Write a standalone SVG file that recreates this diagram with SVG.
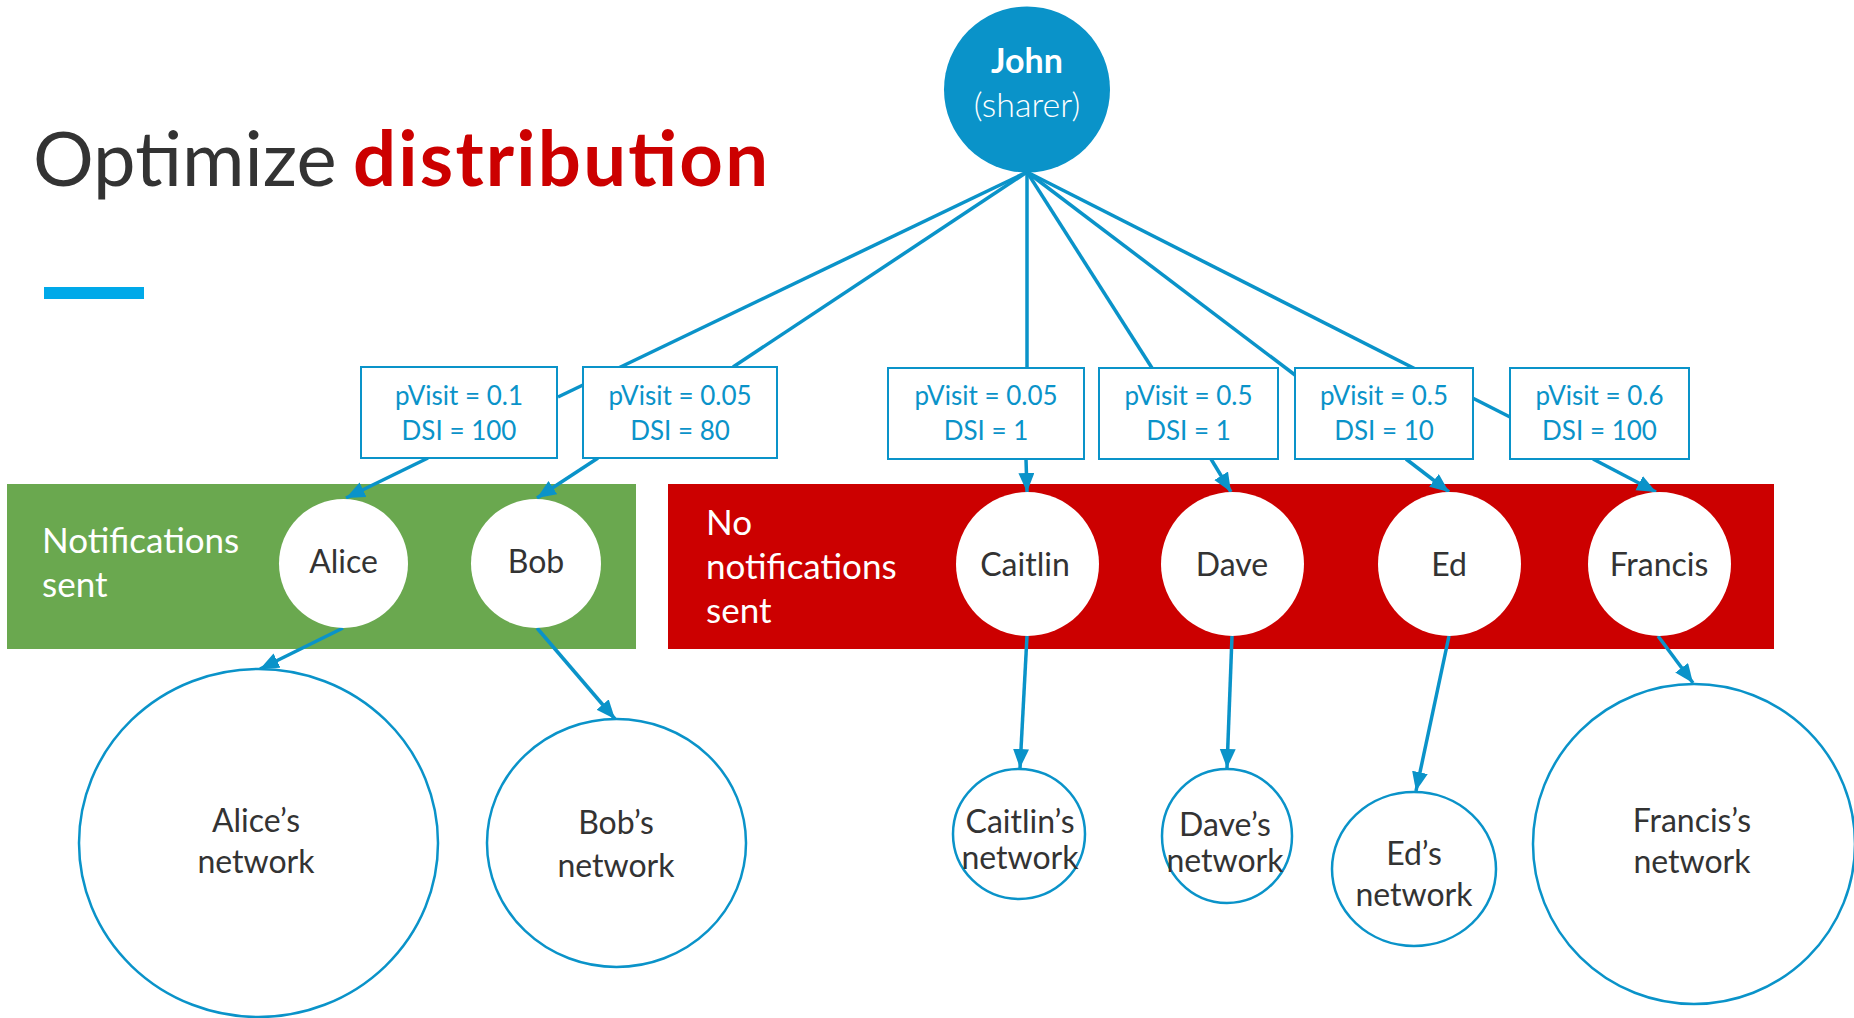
<svg xmlns="http://www.w3.org/2000/svg" width="1854" height="1018" viewBox="0 0 1854 1018">
<style>
text{font-family:Lato,"Noto Sans","Liberation Sans",sans-serif}
.conn{stroke:#0A93C9;stroke-width:3.5;fill:none}
.arr{marker-end:url(#ah)}
.box{fill:#fff;stroke:#0A93C9;stroke-width:2}
.bt{fill:#0A93C9;font-size:26px;text-anchor:middle}
.node{fill:#fff}
.nt{fill:#333;font-size:32px;text-anchor:middle}
.net{fill:#fff;stroke:#0A93C9;stroke-width:2.5}
.gt{fill:#fff;font-size:35px}
</style>
<defs>
<marker id="ah" markerWidth="20" markerHeight="18" refX="19" refY="8" orient="auto" markerUnits="userSpaceOnUse">
<path d="M0,0 L19,8 L0,16 z" fill="#0A93C9"/>
</marker>
</defs>
<rect width="1854" height="1018" fill="#fff"/>
<g id="title">
<text x="33" y="186" font-size="76" fill="#333">Optimize</text>
<text x="353" y="186" font-size="76" fill="#CC0000" font-weight="bold" textLength="415" lengthAdjust="spacing">distribution</text>
<rect x="44" y="287" width="100" height="12" fill="#00A9E9"/>
</g>
<g id="group-sent">
<rect x="7" y="484" width="629" height="165" fill="#6AA84F"/>
<text class="gt" x="42" y="553">Notifications</text>
<text class="gt" x="42" y="597">sent</text>
</g>
<g id="group-not-sent">
<rect x="668" y="484" width="1106" height="165" fill="#CC0000"/>
<text class="gt" x="706" y="535">No</text>
<text class="gt" x="706" y="579">notifications</text>
<text class="gt" x="706" y="623">sent</text>
</g>
<g id="connectors">
<line class="conn" x1="1027" y1="172" x2="558" y2="397"/>
<line class="conn" x1="1027" y1="172" x2="733" y2="367"/>
<line class="conn" x1="1027" y1="172" x2="1027" y2="368"/>
<line class="conn" x1="1027" y1="172" x2="1152" y2="368"/>
<line class="conn" x1="1027" y1="172" x2="1295" y2="375"/>
<line class="conn" x1="1027" y1="172" x2="1510" y2="417"/>
<line class="conn arr" x1="428" y1="458" x2="346" y2="498"/>
<line class="conn arr" x1="598" y1="458" x2="537" y2="498"/>
<line class="conn arr" x1="1026" y1="459" x2="1027" y2="492"/>
<line class="conn arr" x1="1211" y1="459" x2="1231" y2="492"/>
<line class="conn arr" x1="1406" y1="459" x2="1449" y2="492"/>
<line class="conn arr" x1="1593" y1="459" x2="1656" y2="492"/>
<line class="conn arr" x1="343" y1="628" x2="260" y2="669"/>
<line class="conn arr" x1="537" y1="628" x2="615" y2="719"/>
<line class="conn arr" x1="1027" y1="636" x2="1020" y2="768"/>
<line class="conn arr" x1="1232" y1="636" x2="1227" y2="768"/>
<line class="conn arr" x1="1449" y1="636" x2="1416" y2="791"/>
<line class="conn arr" x1="1658" y1="636" x2="1693" y2="683"/>
</g>
<g id="john">
<circle cx="1027" cy="89.5" r="83" fill="#0A93C9"/>
<text x="1027" y="73" font-size="34" font-weight="bold" fill="#fff" text-anchor="middle">John</text>
<text x="1027" y="117" font-size="34" font-weight="300" fill="#fff" text-anchor="middle">(sharer)</text>
</g>
<g id="box-alice"><rect class="box" x="361" y="367" width="196" height="91"/><text class="bt" x="459" y="405">pVisit = 0.1</text><text class="bt" x="459" y="440">DSI = 100</text></g>
<g id="box-bob"><rect class="box" x="583" y="367" width="194" height="91"/><text class="bt" x="680" y="405">pVisit = 0.05</text><text class="bt" x="680" y="440">DSI = 80</text></g>
<g id="box-caitlin"><rect class="box" x="888" y="368" width="196" height="91"/><text class="bt" x="986" y="405">pVisit = 0.05</text><text class="bt" x="986" y="440">DSI = 1</text></g>
<g id="box-dave"><rect class="box" x="1099" y="368" width="179" height="91"/><text class="bt" x="1188.5" y="405">pVisit = 0.5</text><text class="bt" x="1188.5" y="440">DSI = 1</text></g>
<g id="box-ed"><rect class="box" x="1295" y="368" width="178" height="91"/><text class="bt" x="1384" y="405">pVisit = 0.5</text><text class="bt" x="1384" y="440">DSI = 10</text></g>
<g id="box-francis"><rect class="box" x="1510" y="368" width="179" height="91"/><text class="bt" x="1599.5" y="405">pVisit = 0.6</text><text class="bt" x="1599.5" y="440">DSI = 100</text></g>
<g id="alice"><ellipse class="node" cx="343.5" cy="563.5" rx="64.5" ry="64.5"/><text class="nt" x="343.5" y="573">Alice</text></g>
<g id="bob"><ellipse class="node" cx="536" cy="563.5" rx="65" ry="64.5"/><text class="nt" x="536" y="573">Bob</text></g>
<g id="caitlin"><ellipse class="node" cx="1027.5" cy="564" rx="71.5" ry="72"/><text class="nt" x="1025" y="576">Caitlin</text></g>
<g id="dave"><ellipse class="node" cx="1232.5" cy="564" rx="71.5" ry="72"/><text class="nt" x="1232" y="576">Dave</text></g>
<g id="ed"><ellipse class="node" cx="1449.5" cy="564" rx="71.5" ry="72"/><text class="nt" x="1449" y="576">Ed</text></g>
<g id="francis"><ellipse class="node" cx="1659.5" cy="564" rx="71.5" ry="72"/><text class="nt" x="1659" y="576">Francis</text></g>
<g id="alice-network"><ellipse class="net" cx="258.5" cy="843" rx="179.5" ry="174"/><text class="nt" font-size="33" x="256" y="832">Alice’s</text><text class="nt" font-size="33" x="256" y="873">network</text></g>
<g id="bob-network"><ellipse class="net" cx="616.5" cy="843" rx="129.5" ry="124"/><text class="nt" font-size="33" x="616" y="834">Bob’s</text><text class="nt" font-size="33" x="616" y="877">network</text></g>
<g id="caitlin-network"><ellipse class="net" cx="1019" cy="834" rx="66" ry="65"/><text class="nt" font-size="26" x="1020" y="833">Caitlin’s</text><text class="nt" font-size="26" x="1020" y="869">network</text></g>
<g id="dave-network"><ellipse class="net" cx="1227" cy="836" rx="65" ry="67"/><text class="nt" font-size="26" x="1225" y="836">Dave’s</text><text class="nt" font-size="26" x="1225" y="872">network</text></g>
<g id="ed-network"><ellipse class="net" cx="1414" cy="869" rx="82" ry="77"/><text class="nt" font-size="33" x="1414" y="865">Ed’s</text><text class="nt" font-size="33" x="1414" y="906">network</text></g>
<g id="francis-network"><ellipse class="net" cx="1694" cy="844" rx="161" ry="160"/><text class="nt" font-size="33" x="1692" y="832">Francis’s</text><text class="nt" font-size="33" x="1692" y="873">network</text></g>
</svg>
